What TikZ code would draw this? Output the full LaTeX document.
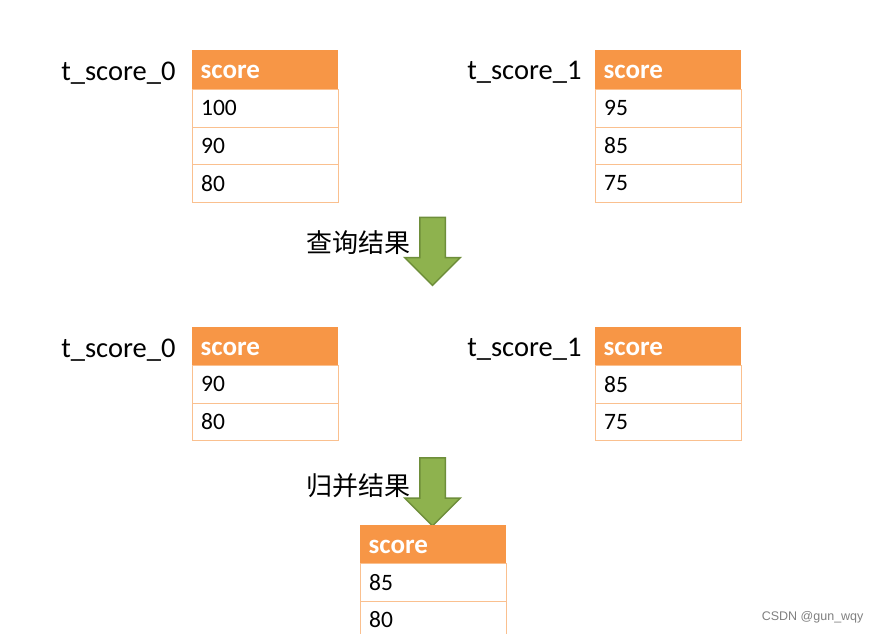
\documentclass[tikz,border=0pt]{standalone}
\usepackage{fontspec}
\setmainfont{Carlito}
\newfontfamily\cjkfont{Noto Sans CJK SC}
\newfontfamily\markfont{Liberation Sans}
\usetikzlibrary{shapes.arrows,positioning}

\definecolor{hdrorange}{HTML}{F79646}
\definecolor{lineorange}{HTML}{FAC08F}
\definecolor{arrowgreen}{HTML}{8EB24E}
\definecolor{arrowedge}{HTML}{6E8E3A}

\tikzset{
    hdr/.style={anchor=north west, fill=hdrorange, text=white,
        font=\bfseries\fontsize{27}{27}\selectfont, text height=18pt, text depth=0pt,
        minimum height=39pt, text width=129pt, inner xsep=8.5pt, inner ysep=0pt, align=left},
    cell/.style={anchor=north west, draw=lineorange, line width=1.2pt,
        font=\fontsize{23.5}{23.5}\selectfont,
        minimum height=37.5pt, text width=129pt, inner xsep=8.5pt, inner ysep=0pt, align=left},
    tname/.style={font=\fontsize{28.5}{28.5}\selectfont},
    downarrow/.style={single arrow, shape border rotate=270, fill=arrowgreen, draw=arrowedge,
        line width=1.5pt, inner sep=12pt, single arrow head extend=15pt, minimum height=68pt},
    steptext/.style={anchor=east, font=\cjkfont\fontsize{26}{26}\selectfont}
}

\begin{document}
\begin{tikzpicture}[x=1pt,y=-1pt]
        \useasboundingbox[fill=white] (0,0) rectangle (881,633);

        % query results on each shard
        \node[hdr] (a0h) at (192,50) {score};
        \foreach \v [count=\i] in {100,90,80}
            \node[cell] (a0r\i) at (192,{89+(\i-1)*37.5}) {\v};
        \node[tname, left=13pt of a0h, yshift=-3pt] (a0n) {t\_score\_0};

        \node[hdr] (a1h) at (595,50) {score};
        \foreach \v [count=\i] in {95,85,75}
            \node[cell] (a1r\i) at (595,{89+(\i-1)*37.5}) {\v};
        \node[tname, left=10pt of a1h, yshift=-3pt] (a1n) {t\_score\_1};

        \node[downarrow] (q1) at (432.5,245) {};
        \node[steptext] (q1t) at (414,243) {查询结果};

        % after limit
        \node[hdr] (b0h) at (192,327) {score};
        \foreach \v [count=\i] in {90,80}
            \node[cell] (b0r\i) at (192,{365+(\i-1)*37.5}) {\v};
        \node[tname, left=13pt of b0h, yshift=-3pt] (b0n) {t\_score\_0};

        \node[hdr] (b1h) at (595,327) {score};
        \foreach \v [count=\i] in {85,75}
            \node[cell] (b1r\i) at (595,{365+(\i-1)*37.5}) {\v};
        \node[tname, left=10pt of b1h, yshift=-3pt] (b1n) {t\_score\_1};

        \node[downarrow] (q2) at (432.5,485.5) {};
        \node[steptext] (q2t) at (414,486) {归并结果};

        % merged
        \node[hdr] (ch) at (360,525) {score};
        \foreach \v [count=\i] in {85,80}
            \node[cell] (cr\i) at (360,{563+(\i-1)*37.5}) {\v};

        \node[anchor=east, text=gray, font=\markfont\fontsize{12.5}{12.5}\selectfont] (wm) at (867,617) {CSDN @gun\_wqy};
\end{tikzpicture}
\end{document}
